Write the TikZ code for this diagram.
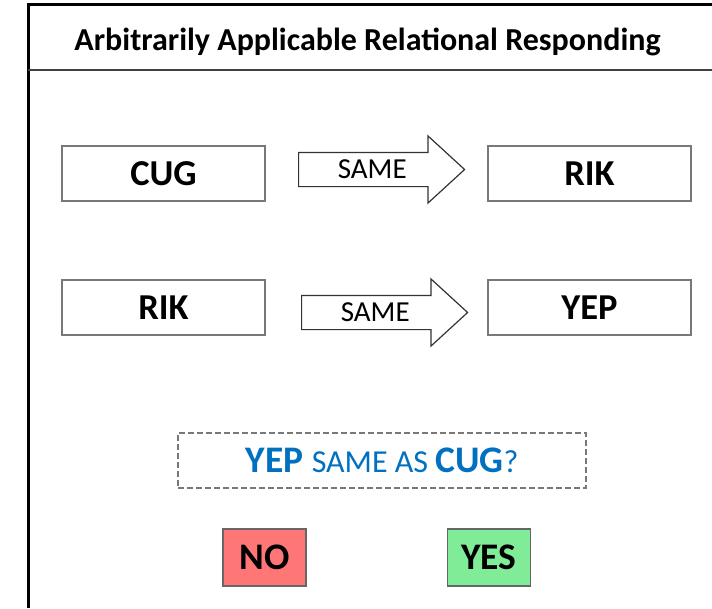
\documentclass[tikz,border=0pt]{standalone}
\usepackage{fontspec}
\setmainfont{Carlito}
\usetikzlibrary{shapes.arrows}

\definecolor{askblue}{RGB}{0,112,192}
\definecolor{nored}{RGB}{255,118,118}
\definecolor{yesgreen}{RGB}{128,236,152}
\definecolor{edgegray}{RGB}{120,120,120}

\tikzset{
  termbox/.style={draw=edgegray, line width=1.4pt, minimum width=203pt,
    minimum height=55pt, inner sep=0pt,
    font=\fontsize{36.5}{40}\selectfont\bfseries},
  samearrow/.style={single arrow, draw=black!80, line width=1.2pt,
    minimum height=166pt, inner xsep=0pt, inner ysep=0pt,
    text height=25pt, text depth=8pt, single arrow head extend=16.5pt,
    single arrow tip angle=85, font=\fontsize{29}{32}\selectfont,
    anchor=tail},
  answerbox/.style={draw=black!60, line width=1.4pt, minimum width=83pt,
    minimum height=57pt, inner sep=0pt,
    font=\fontsize{37.5}{40}\selectfont\bfseries}
}

\begin{document}
\begin{tikzpicture}[x=1pt, y=-1pt]
  \useasboundingbox (0,0) rectangle (712,608);
  \draw[line width=3pt] (28,608) -- (28,4) -- (712,4);
  \draw[line width=2pt, black!75] (28,70) -- (712,70);
  \node[font=\fontsize{32}{36}\selectfont\bfseries, anchor=base] (title) at (367.5,50)
    {Arbitrarily Applicable Relational Responding};
  \node[termbox] (cug) at (163.5,173.5) {CUG};
  \node[termbox] (rikA) at (589.5,173.5) {RIK};
  \node[termbox] (rikB) at (163.5,307.5) {RIK};
  \node[termbox] (yep) at (589.5,307.5) {YEP};
  \node[samearrow] (sameA) at (298,169.5) {SAME};
  \node[samearrow] (sameB) at (301,312.5) {SAME};
  \node[draw=edgegray, line width=1.4pt, dash pattern=on 6pt off 3pt,
    minimum width=408pt, minimum height=55pt, text=askblue] (ask) at (382,460.5)
    {\fontsize{37.5}{40}\selectfont\bfseries YEP
     \mdseries\fontsize{32}{34}\selectfont SAME AS
     \bfseries\fontsize{37.5}{40}\selectfont CUG\mdseries\fontsize{32}{34}\selectfont ?};
  \node[answerbox, fill=nored] (no) at (264.5,557.5) {NO};
  \node[answerbox, fill=yesgreen] (yes) at (489,557.5) {YES};
\end{tikzpicture}
\end{document}
